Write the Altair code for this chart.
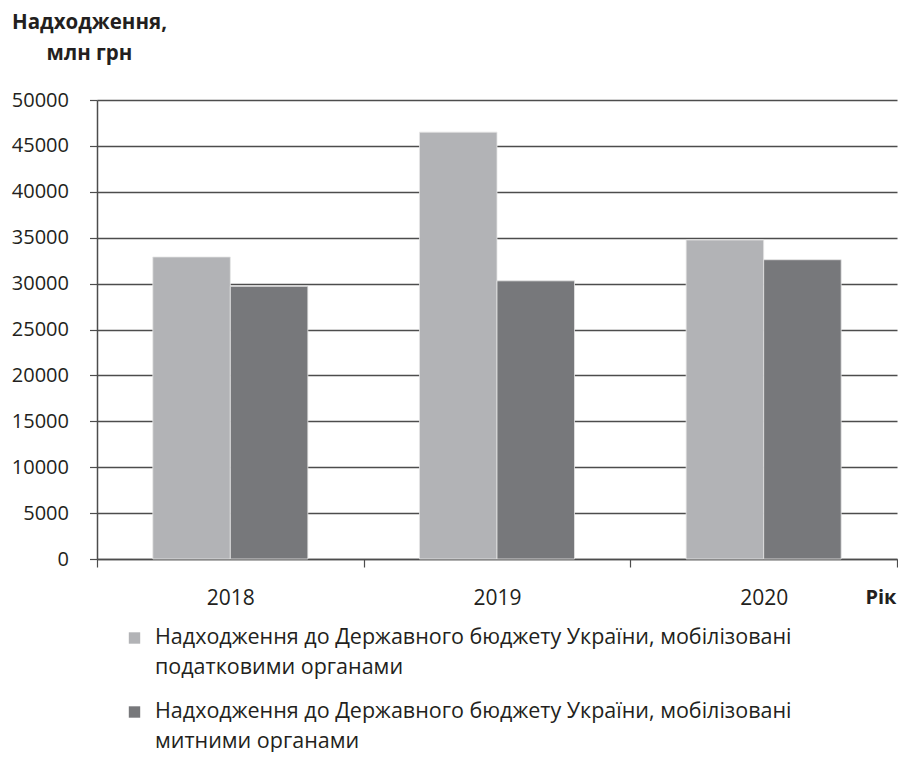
import altair as alt
import pandas as pd

years = ["2018", "2019", "2020"]
series = [
    "Надходження до Державного бюджету України, мобілізовані|податковими органами",
    "Надходження до Державного бюджету України, мобілізовані|митними органами",
]
tax_values = [32900, 46500, 34750]
customs_values = [29700, 30300, 32600]
colors = ["#b2b3b6", "#77787b"]

rows = []
for i, y in enumerate(years):
    rows.append({"year": y, "series": series[0], "value": tax_values[i]})
    rows.append({"year": y, "series": series[1], "value": customs_values[i]})
df = pd.DataFrame(rows)
legend_df = pd.DataFrame({"series": series})

FONT = "Open Sans"
INK = "#231f20"
LINE = "#4d4d4d"
W = 800
color_scale = alt.Scale(domain=series, range=colors)
no_view = alt.ViewConfig(stroke="transparent", strokeWidth=0)

main = alt.Chart(df).mark_bar(stroke="#e6e6e6", strokeWidth=0.8).encode(
    x=alt.X(
        "year:N",
        scale=alt.Scale(paddingInner=0, paddingOuter=0),
        axis=alt.Axis(
            title="Рік",
            titleFont=FONT, titleFontSize=20, titleFontWeight="bold", titleColor=INK,
            titleAngle=0, titleAlign="right", titleBaseline="middle",
            titleX=W - 1, titleY=38,
            labelAngle=0, labelFont=FONT, labelFontSize=21, labelColor=INK,
            labelPadding=20, tickBand="extent", tickSize=8, tickColor=LINE,
            tickWidth=1.2, domainColor=LINE, domainWidth=1.5, grid=False,
        ),
    ),
    xOffset=alt.XOffset(
        "series:N", sort=series,
        scale=alt.Scale(paddingInner=0, paddingOuter=0.72),
    ),
    y=alt.Y(
        "value:Q",
        scale=alt.Scale(domain=[0, 50000]),
        axis=alt.Axis(
            values=list(range(0, 50001, 5000)),
            format="d",
            title=["Надходження,", "млн грн"],
            titleFont=FONT, titleFontSize=20.5, titleFontWeight="bold", titleColor=INK,
            titleAngle=0, titleAlign="center", titleBaseline="middle",
            titleX=-8, titleY=-78, titleLineHeight=31,
            labelFont=FONT, labelFontSize=20, labelColor=INK, labelPadding=21,
            tickSize=7.5, tickColor=LINE, tickWidth=1.2,
            domainColor=LINE, domainWidth=1.5,
            grid=True, gridColor=LINE, gridWidth=1.5,
        ),
    ),
    color=alt.Color("series:N", sort=series, scale=color_scale, legend=None),
).properties(width=W, height=459, view=no_view)

legend_y = alt.Y("series:N", sort=series, axis=None,
                 scale=alt.Scale(type="point", padding=0))

legend_sym = alt.Chart(legend_df).mark_square(size=130, opacity=1).encode(
    x=alt.value(37.5),
    y=legend_y,
    color=alt.Color("series:N", sort=series, scale=color_scale, legend=None),
)
legend_txt = alt.Chart(legend_df).mark_text(
    align="left", baseline="middle", font=FONT, fontSize=21.5, color=INK,
    lineBreak="|", lineHeight=29.5,
).encode(
    x=alt.value(58),
    y=legend_y,
    text="series:N",
)
legend = alt.layer(legend_sym, legend_txt).properties(width=W, height=74, view=no_view)

chart = alt.vconcat(main, legend, spacing=19).configure_view(
    stroke="transparent", strokeWidth=0
).configure(
    background="white",
    padding={"left": 3, "top": 4, "right": 0, "bottom": 0},
    style={"cell": {"stroke": "transparent", "strokeWidth": 0}},
)

chart.save("out.html", embed_options={"renderer": "svg", "actions": False})
